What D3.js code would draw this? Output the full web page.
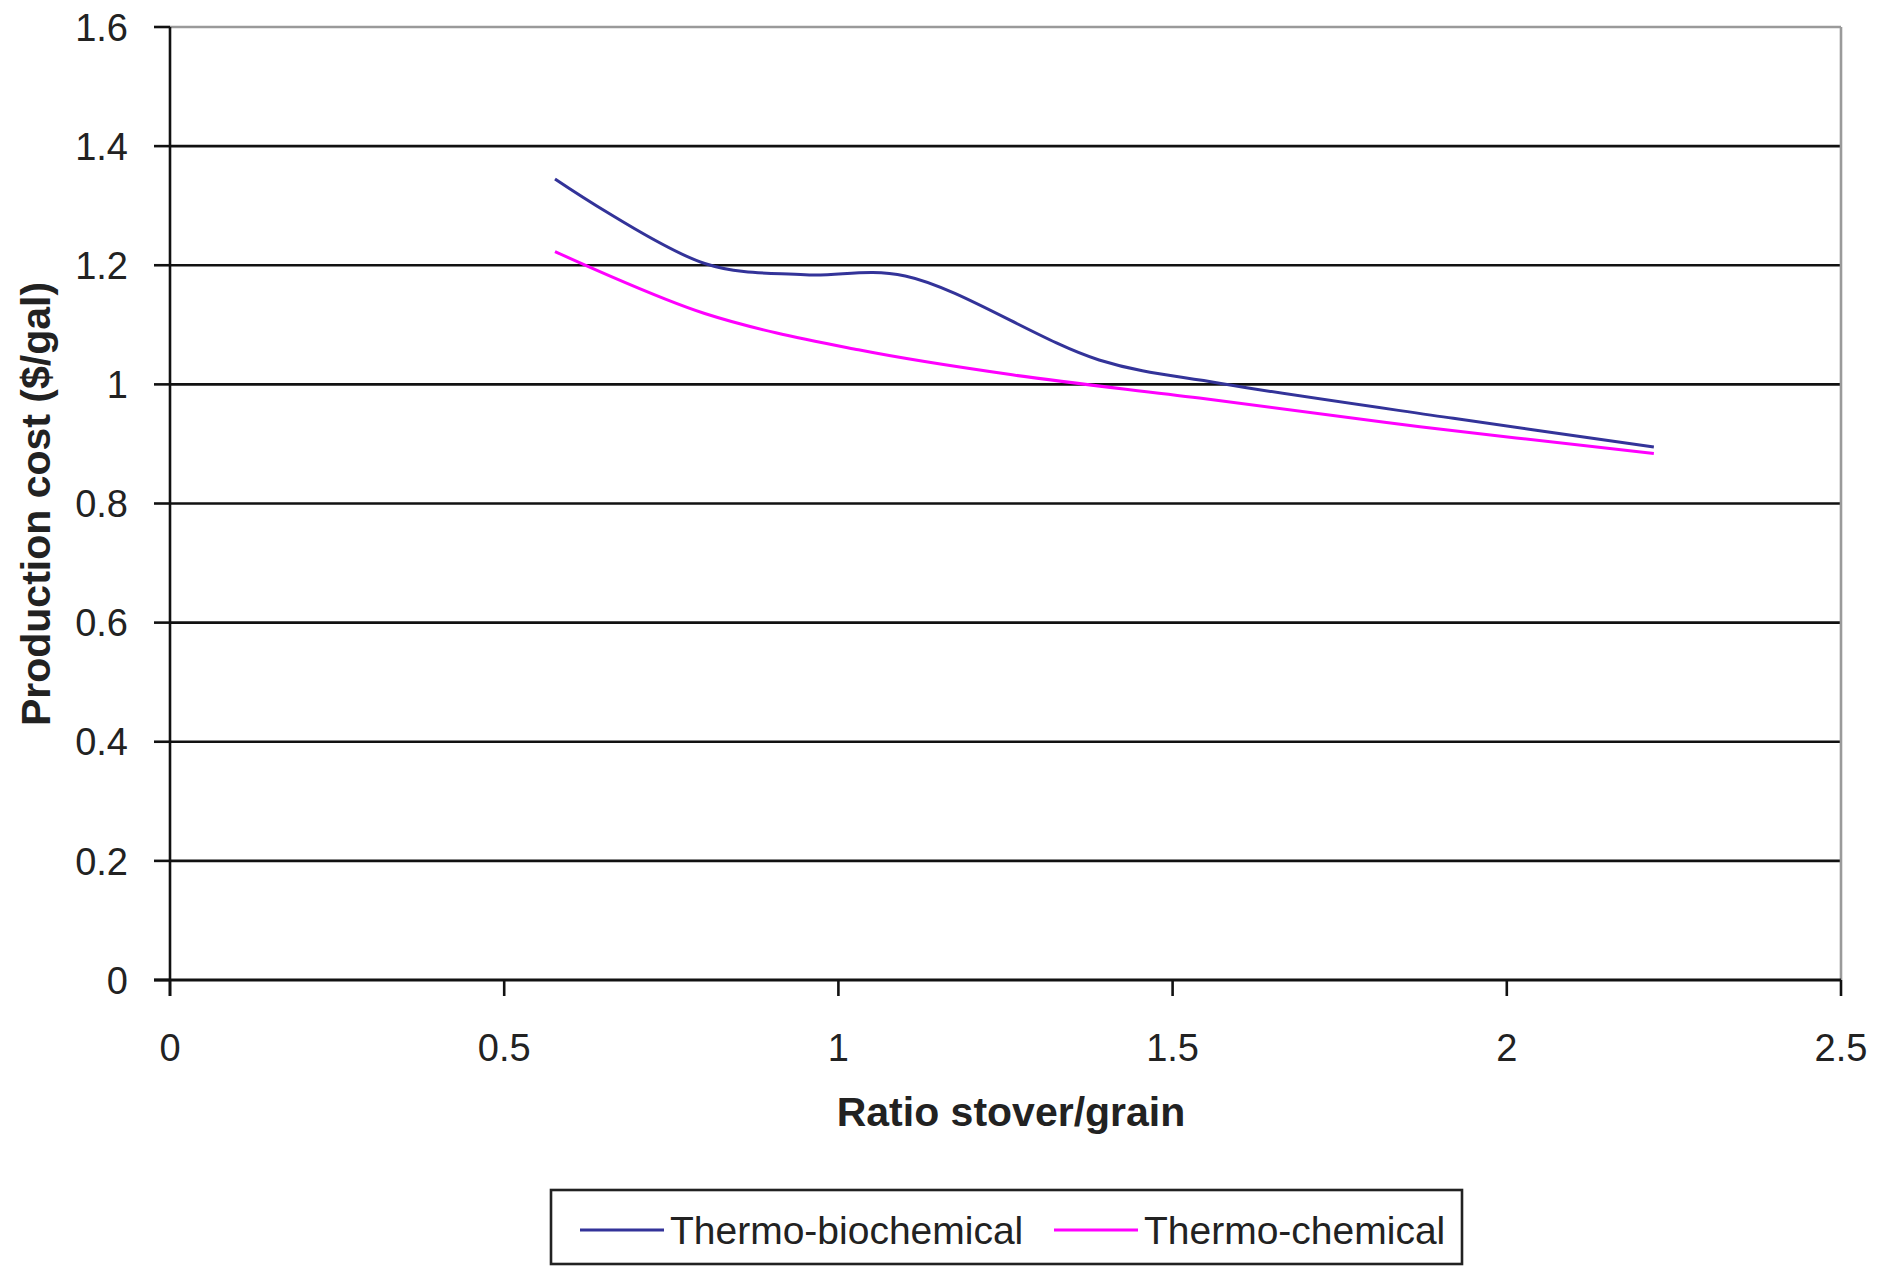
<!DOCTYPE html>
<html>
<head>
<meta charset="utf-8">
<script src="https://cdn.jsdelivr.net/npm/d3@7"></script>
<style>
  body { margin: 0; background: #fff; }
  svg text { font-family: "Liberation Sans", Arial, sans-serif; }
</style>
</head>
<body>
<div id="chart"></div>
<script>
// series (ratio stover/grain -> $/gal)
const bioX = [0.576, 0.8, 0.95, 1.1, 1.39, 1.57, 1.92, 2.22]
const bioY = [1.345, 1.203, 1.184, 1.182, 1.041, 1.002, 0.943, 0.895]
const chemX = [0.576, 0.8, 1.03, 1.26, 1.54, 1.87, 2.22]
const chemY = [1.223, 1.119, 1.058, 1.016, 0.977, 0.929, 0.884]

const xTicks = [0, 0.5, 1, 1.5, 2, 2.5]
const yTicks = [0, 0.2, 0.4, 0.6, 0.8, 1, 1.2, 1.4, 1.6]
const seriesNames = ['Thermo-biochemical', 'Thermo-chemical']
const seriesColors = ['#333399', '#ff00ff']

const W = 1894, H = 1267
const mLeft = 170, mRight = 1841, mTop = 27, mBottom = 980

const svg = d3.select('#chart').append('svg')
    .attr('width', W)
    .attr('height', H)

const x = d3.scaleLinear().domain([0, 2.5]).range([mLeft, mRight])
const y = d3.scaleLinear().domain([0, 1.6]).range([mBottom, mTop])

// gridlines (top one is the gray frame)
svg.append('g').selectAll('line').data(yTicks.filter(d => d > 0))
    .enter().append('line')
    .attr('x1', mLeft).attr('x2', mRight)
    .attr('y1', d => y(d)).attr('y2', d => y(d))
    .attr('stroke', d => d === 1.6 ? '#9a9a9a' : '#111')
    .attr('stroke-width', 2.6)

// right frame
svg.append('line')
    .attr('x1', mRight).attr('x2', mRight)
    .attr('y1', mTop).attr('y2', mBottom)
    .attr('stroke', '#9a9a9a').attr('stroke-width', 2.6)

// y axis
const yAxis = svg.append('g')
yAxis.append('line')
    .attr('x1', mLeft).attr('x2', mLeft)
    .attr('y1', mTop).attr('y2', mBottom + 16)
    .attr('stroke', '#111').attr('stroke-width', 2.6)
yAxis.selectAll('.tk').data(yTicks).enter().append('line')
    .attr('x1', mLeft - 16).attr('x2', mLeft)
    .attr('y1', d => y(d)).attr('y2', d => y(d))
    .attr('stroke', '#111').attr('stroke-width', 2.6)
yAxis.selectAll('text').data(yTicks).enter().append('text')
    .attr('x', 128)
    .attr('y', d => y(d))
    .attr('dy', '0.36em')
    .attr('text-anchor', 'end')
    .attr('font-size', 38)
    .attr('fill', '#222')
    .text(d => d3.format('')(d))

// x axis
const xAxis = svg.append('g')
xAxis.append('line')
    .attr('x1', mLeft - 16).attr('x2', mRight)
    .attr('y1', mBottom).attr('y2', mBottom)
    .attr('stroke', '#111').attr('stroke-width', 3)
xAxis.selectAll('.tk').data(xTicks).enter().append('line')
    .attr('x1', d => x(d)).attr('x2', d => x(d))
    .attr('y1', mBottom).attr('y2', mBottom + 16)
    .attr('stroke', '#111').attr('stroke-width', 2.6)
xAxis.selectAll('text').data(xTicks).enter().append('text')
    .attr('x', d => x(d))
    .attr('y', 1061)
    .attr('text-anchor', 'middle')
    .attr('font-size', 38)
    .attr('fill', '#222')
    .text(d => d3.format('')(d))

// axis titles
svg.append('text')
    .attr('x', 1011).attr('y', 1126)
    .attr('text-anchor', 'middle')
    .attr('font-size', 41).attr('font-weight', 'bold')
    .attr('fill', '#222')
    .text('Ratio stover/grain')

svg.append('text')
    .attr('transform', 'translate(50,504) rotate(-90)')
    .attr('text-anchor', 'middle')
    .attr('font-size', 41).attr('font-weight', 'bold')
    .attr('fill', '#222')
    .text('Production cost ($/gal)')

// lines
const line = d3.line()
    .x(d => x(d[0]))
    .y(d => y(d[1]))
    .curve(d3.curveCatmullRom.alpha(0.5))

const series = [d3.zip(bioX, bioY), d3.zip(chemX, chemY)]

svg.append('g').selectAll('path').data(series)
    .enter().append('path')
    .attr('d', line)
    .attr('fill', 'none')
    .attr('stroke', (d, i) => seriesColors[i])
    .attr('stroke-width', 3)

// legend
const legend = svg.append('g')
legend.append('rect')
    .attr('x', 551).attr('y', 1190)
    .attr('width', 911).attr('height', 74)
    .attr('fill', '#fff')
    .attr('stroke', '#222').attr('stroke-width', 2.6)

const legX = [580, 1054]
legend.selectAll('line').data(seriesNames).enter().append('line')
    .attr('x1', (d, i) => legX[i]).attr('x2', (d, i) => legX[i] + 84)
    .attr('y1', 1230).attr('y2', 1230)
    .attr('stroke', (d, i) => seriesColors[i])
    .attr('stroke-width', 3)
legend.selectAll('text').data(seriesNames).enter().append('text')
    .attr('x', (d, i) => legX[i] + 90)
    .attr('y', 1244)
    .attr('font-size', 39)
    .attr('fill', '#222')
    .text(d => d)
</script>
</body>
</html>
